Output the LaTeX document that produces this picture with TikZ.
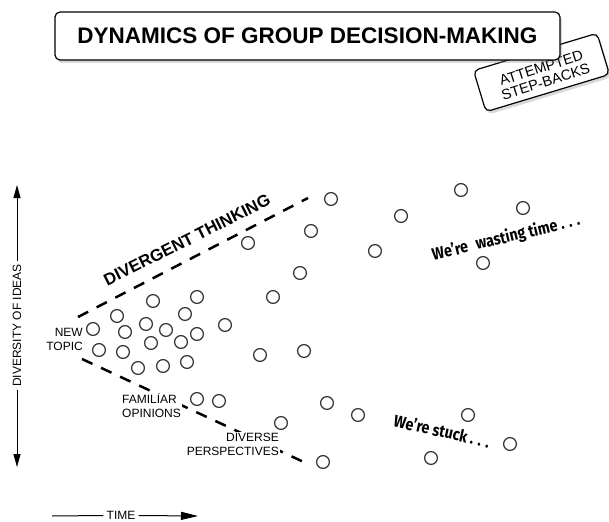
\documentclass[tikz,border=0pt]{standalone}
\usepackage{fontspec}
\setmainfont{Liberation Sans}
\newfontfamily\condfont[FakeStretch=0.85]{Fira Sans}
\usetikzlibrary{shadows,arrows.meta}
\begin{document}
\begin{tikzpicture}[x=1pt,y=-1pt,
  idea/.style={circle,draw=black!80,line width=1.25pt,minimum size=12.8pt,inner sep=0pt},
  bound/.style={line width=2.5pt,dash pattern=on 11.5pt off 9.5pt,black},
  lbl/.style={font=\fontsize{12}{14}\selectfont,inner sep=1pt,fill=white},
  axislbl/.style={font=\fontsize{12}{14}\selectfont,inner xsep=3pt,inner ysep=0pt},
  axisarrow/.style={line width=1pt,-{Triangle[length=13pt,width=7pt]}},
  timearrow/.style={line width=1pt,-{Triangle[length=17pt,width=8pt]}},
  remark/.style={font=\condfont\bfseries\fontsize{16.8}{18}\selectfont,inner sep=0pt},
  boxed/.style={draw,line width=1.2pt,rounded corners=5pt,fill=white,
    drop shadow={shadow xshift=2pt,shadow yshift=-3pt,opacity=0.3}},
]
\useasboundingbox (0,0) rectangle (609,521);

% tag (behind the title)
\node[boxed,minimum width=129pt,minimum height=43pt,rotate=16.8] (tag) at (541.5,72.5) {};
\node[rotate=17.5,align=center,inner sep=0pt,
  font=\fontsize{14.5}{14.5}\selectfont] (tagtext) at (543.5,75) {ATTEMPTED\\STEP-BACKS};

% title
\node[boxed,minimum width=505pt,minimum height=48pt,
  font=\bfseries\fontsize{22.5}{27}\selectfont] (title) at (307.5,36) {DYNAMICS OF GROUP DECISION-MAKING};

% vertical axis
\coordinate (ytop) at (17,185);
\coordinate (ybot) at (17,467);
\node[axislbl,rotate=90] (ylab) at (17,325.5) {DIVERSITY OF IDEAS};
\draw[axisarrow] (ylab.east) -- (ytop);
\draw[axisarrow] (ylab.west) -- (ybot);

% time axis
\coordinate (tstart) at (52,516);
\coordinate (tend) at (198,516);
\node[axislbl] (tlab) at (121,515.5) {TIME};
\draw[line width=1pt] (tstart) -- (tlab.west);
\draw[timearrow] (tlab.east) -- (tend);

% boundaries
\coordinate (u0) at (78,317);
\coordinate (u1) at (308,198);
\coordinate (l0) at (82,359);
\coordinate (l1) at (308,464);
\draw[bound] (u0) -- (u1);
\draw[bound] (l0) -- (l1);

% labels
\node[lbl,align=right,anchor=east] (newtopic) at (84,339) {NEW\\TOPIC};
\node[lbl,align=left,anchor=west] (familiar) at (121,406) {FAMILIAR\\OPINIONS};
\node[lbl,align=right,anchor=east] (diverse) at (280,444) {DIVERSE\\PERSPECTIVES};

\node[rotate=26.6,font=\bfseries\fontsize{16.8}{20}\selectfont,inner sep=0pt] (divergent) at (187,240) {DIVERGENT THINKING};

\node[remark,rotate=13.5] (waste) at (506,238) {We’re\hspace{5pt} wasting time . . .};
\node[remark,rotate=-12.7] (stuck) at (442,431) {We’re stuck . . .};

% ideas
\foreach \p [count=\i] in {(331,199),(461,190),(523,208),(401,216),(311,231),(248,243),
  (375,251),(483,263),(300,273),(273,297),(197,297),(153,301),
  (117,316),(185,314),(93,329),(125,332),(146,324),(166,330),(197,334),(225,325),
  (151,343),(181,342),(99,350),(123,352),(138,368),(163,366),(187,362),(260,355),(304,351),
  (197,399),(219,401),(327,403),(358,415),(281,423),(468,415),(510,444),(431,458),(323,462)}
  \node[idea] (c\i) at \p {};
\end{tikzpicture}
\end{document}
